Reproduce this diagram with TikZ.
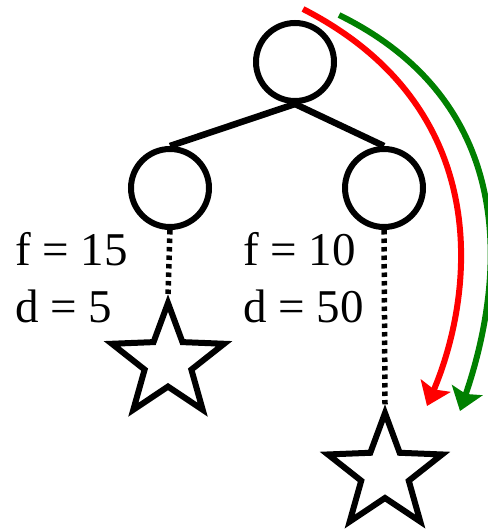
\documentclass[tikz,border=0pt]{standalone}
\usepackage{fontspec}
\setmainfont{Liberation Serif}
\usetikzlibrary{shapes.geometric,arrows.meta}
\begin{document}
\begin{tikzpicture}[x=1pt,y=-1pt,
  treenode/.style={circle,draw,line width=6pt,minimum size=78pt,inner sep=0pt},
  goal/.style={star,star points=5,star point ratio=2.4,draw,line width=6pt,minimum size=#1,inner sep=0pt},
  treeedge/.style={line width=6.5pt},
  dotline/.style={line width=5.5pt,dash pattern=on 4.5pt off 4pt},
  lab/.style={anchor=base west,inner sep=0pt,font=\fontsize{47}{56}\selectfont},
  tour/.style={line width=6pt,-{Stealth[length=22pt,width=32pt,inset=4pt]}}
]
\useasboundingbox (0,0) rectangle (487,532);
\node[treenode] (root) at (295,62) {};
\node[treenode] (l) at (170,188) {};
\node[treenode] (r) at (384,188) {};
\node[goal=118pt] (ls) at (168,362) {};
\node[goal=120pt] (rs) at (385,473) {};
\draw[treeedge] (root.south) -- (l.north);
\draw[treeedge] (root.south) -- (r.north);
\draw[dotline] (l.south) -- (ls.outer point 1);
\draw[dotline] (r.south) -- (rs.outer point 1);
\node[lab] (lf) at (15,265) {f = 15};
\node[lab] (ld) at (15,322) {d = 5};
\node[lab] (rf) at (243,265) {f = 10};
\node[lab] (rd) at (243,322) {d = 50};
\coordinate (rs1) at (303,9);
\coordinate (re1) at (427,406);
\coordinate (rs2) at (339,15);
\coordinate (re2) at (460,411);
\draw[tour,red] (rs1) .. controls (500,110) and (472,300) .. (re1);
\draw[tour,green!50!black] (rs2) .. controls (532,110) and (498,300) .. (re2);
\end{tikzpicture}
\end{document}
